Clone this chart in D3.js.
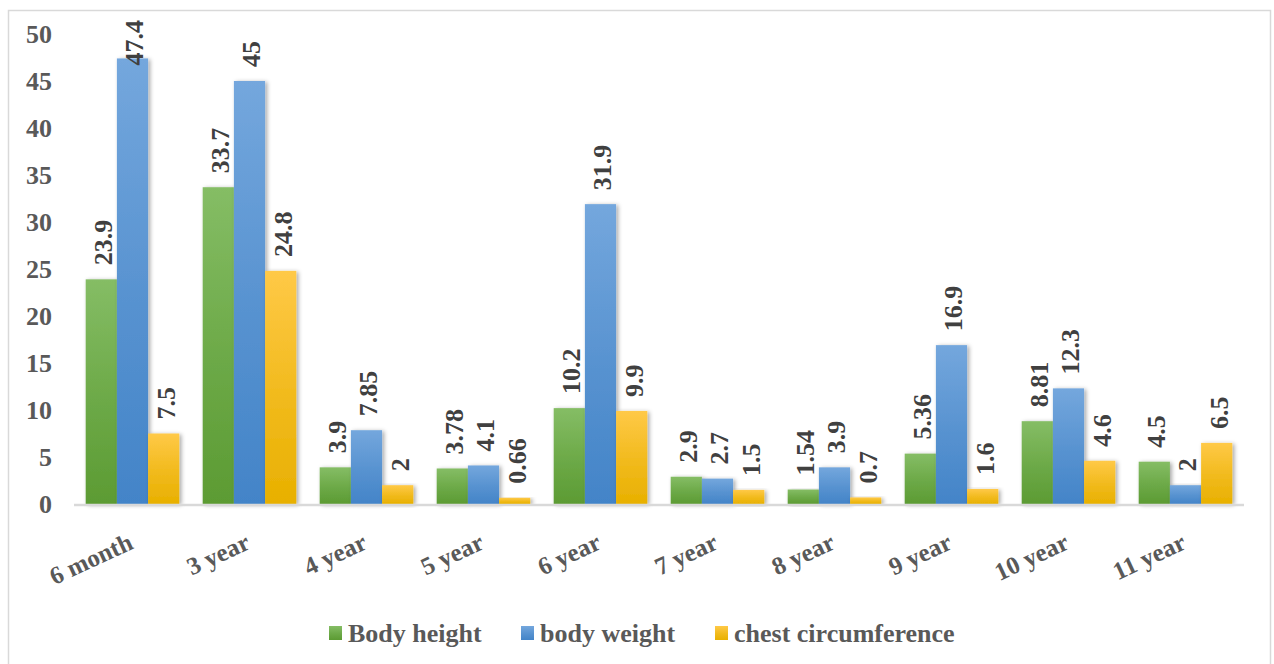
<!DOCTYPE html>
<html>
<head>
<meta charset="utf-8">
<script src="https://cdn.jsdelivr.net/npm/d3@7"></script>
<style>
  body { margin: 0; background: #fff; }
  text { font-family: "Liberation Serif", "Times New Roman", serif; font-weight: bold; }
</style>
</head>
<body>
<div id="chart"></div>
<script>
const categories = ["6 month", "3 year", "4 year", "5 year", "6 year", "7 year", "8 year", "9 year", "10 year", "11 year"];
const seriesNames = ["Body height", "body weight", "chest circumference"];
const bodyHeight = [23.9, 33.7, 3.9, 3.78, 10.2, 2.9, 1.54, 5.36, 8.81, 4.5];
const bodyWeight = [47.4, 45, 7.85, 4.1, 31.9, 2.7, 3.9, 16.9, 12.3, 2];
const chestCirc = [7.5, 24.8, 2, 0.66, 9.9, 1.5, 0.7, 1.6, 4.6, 6.5];
const yTicks = [0, 5, 10, 15, 20, 25, 30, 35, 40, 45, 50];

function renderChart() {
    const width = 1274;
    const height = 664;
    const margin = { top: 34, right: 30, bottom: 160, left: 74 };

    const svg = d3.select("#chart").append("svg")
        .attr("width", width)
        .attr("height", height);

    const defs = svg.append("defs");
    const grads = [
        ["g0", "#85bd65", "#5c9b33"],
        ["g1", "#74a7dd", "#4384c8"],
        ["g2", "#ffc947", "#e8b000"]
    ];
    grads.forEach(([id, c1, c2]) => {
        const g = defs.append("linearGradient").attr("id", id)
            .attr("x1", 0).attr("y1", 0).attr("x2", 0).attr("y2", 1);
        g.append("stop").attr("offset", "0%").attr("stop-color", c1);
        g.append("stop").attr("offset", "55%").attr("stop-color", d3.interpolateRgb(c1, c2)(0.6));
        g.append("stop").attr("offset", "100%").attr("stop-color", c2);
    });
    const shadow = defs.append("filter").attr("id", "shadow")
        .attr("x", "-20%").attr("y", "-10%").attr("width", "150%").attr("height", "130%");
    shadow.append("feDropShadow").attr("dx", 2).attr("dy", 1).attr("stdDeviation", 2)
        .attr("flood-color", "#000").attr("flood-opacity", 0.35);

    // outer frame
    svg.append("rect")
        .attr("x", 8.5).attr("y", 10.5)
        .attr("width", 1262).attr("height", 660)
        .attr("fill", "none").attr("stroke", "#d9d9d9").attr("stroke-width", 1.5);

    const x0 = d3.scaleBand()
        .domain(categories)
        .range([margin.left, width - margin.right])
        .paddingInner(0.2)
        .paddingOuter(0.1);

    const x1 = d3.scaleBand()
        .domain(d3.range(3))
        .range([0, x0.bandwidth()]);

    const y = d3.scaleLinear()
        .domain([0, 50])
        .range([height - margin.bottom, margin.top]);

    const series = [bodyHeight, bodyWeight, chestCirc];

    // y tick labels
    svg.append("g")
        .selectAll("text")
        .data(yTicks)
        .join("text")
        .attr("x", 52)
        .attr("y", d => y(d))
        .attr("dy", "0.35em")
        .attr("text-anchor", "end")
        .attr("fill", "#595959")
        .attr("font-size", 26)
        .text(d => d);

    const groups = svg.append("g")
        .selectAll("g")
        .data(categories)
        .join("g")
        .attr("transform", d => `translate(${x0(d)},0)`);

    groups.selectAll("rect")
        .data((d, i) => series.map((s, k) => ({ k, v: s[i] })))
        .join("rect")
        .attr("x", d => x1(d.k))
        .attr("y", d => y(d.v))
        .attr("width", x1.bandwidth())
        .attr("height", d => y(0) - y(d.v))
        .attr("fill", d => `url(#g${d.k})`)
        .attr("filter", "url(#shadow)");

    groups.selectAll("text.val")
        .data((d, i) => series.map((s, k) => ({ k, v: s[i] })))
        .join("text")
        .attr("class", "val")
        .attr("dy", "0.42em")
        .attr("text-anchor", "start")
        .attr("fill", "#404040")
        .attr("font-size", 26)
        .text(d => d.v)
        .attr("transform", function (d) {
            const len = this.getComputedTextLength();
            const start = Math.max(y(d.v) - 14, 20 + len);
            return `translate(${x1(d.k) + x1.bandwidth() / 2},${start}) rotate(-90)`;
        });

    // x axis line
    svg.append("line")
        .attr("x1", margin.left).attr("x2", width - margin.right)
        .attr("y1", y(0) + 1).attr("y2", y(0) + 1)
        .attr("stroke", "#d9d9d9").attr("stroke-width", 2.5);

    // x labels
    svg.append("g")
        .selectAll("text")
        .data(categories)
        .join("text")
        .attr("transform", d => `translate(${x0(d) + x0.bandwidth() / 2 + 2},${y(0) + 44}) rotate(-25)`)
        .attr("text-anchor", "end")
        .attr("fill", "#595959")
        .attr("font-size", 25)
        .text(d => d);

    // legend
    const legendX = [329, 521, 715];
    const legend = svg.append("g")
        .selectAll("g")
        .data(seriesNames)
        .join("g")
        .attr("transform", (d, i) => `translate(${legendX[i]},633)`);
    legend.append("rect")
        .attr("x", 0).attr("y", -7)
        .attr("width", 13).attr("height", 14)
        .attr("fill", (d, i) => `url(#g${i})`);
    legend.append("text")
        .attr("x", 19)
        .attr("dy", "0.35em")
        .attr("fill", "#595959")
        .attr("font-size", 26)
        .text(d => d);
}
renderChart();
</script>
</body>
</html>
